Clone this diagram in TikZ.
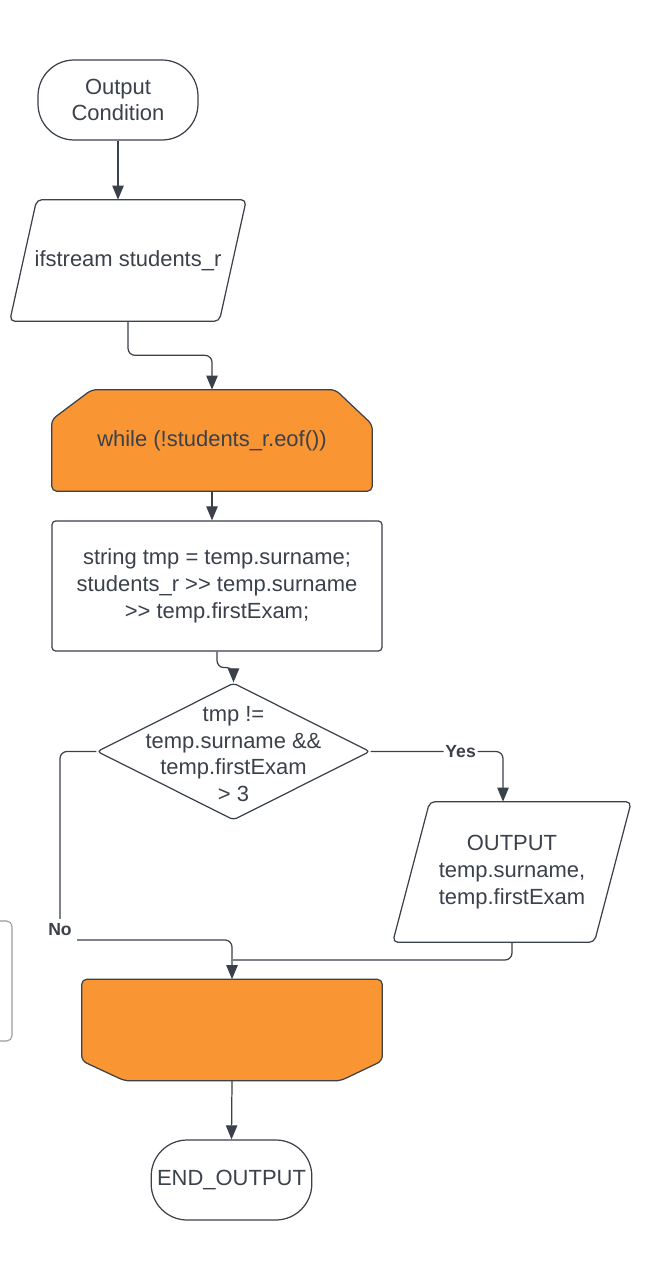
\documentclass[tikz,border=0pt]{standalone}
\usepackage{fontspec}
\setmainfont{Liberation Sans}
\usetikzlibrary{arrows.meta, positioning, shapes.geometric, backgrounds, calc}
\definecolor{inkgray}{HTML}{3A414A}
\definecolor{loopfill}{HTML}{F99533}
\newcommand{\shr}{>\kern0pt>}

\begin{document}
\begin{tikzpicture}[
  x=0.02cm, y=-0.02cm,
  font=\fontsize{12.5}{15.2}\selectfont, text=inkgray,
  terminal/.style={rectangle, draw=inkgray, rounded corners=0.72cm, line width=0.7pt,
                   minimum width=3.2cm, minimum height=1.6cm, align=center},
  iobox/.style={rectangle, align=center},
  ioline/.style={draw=inkgray, line width=0.7pt, rounded corners=3pt},
  process/.style={rectangle, draw=inkgray, rounded corners=2pt, line width=0.7pt,
                  minimum width=6.6cm, minimum height=2.6cm, align=center},
  decision/.style={diamond, draw=inkgray, rounded corners=2pt, line width=0.7pt,
                   minimum width=5.46cm, minimum height=2.74cm, inner sep=0pt},
  loopbox/.style={rectangle, minimum height=2.02cm, align=center},
  loopline/.style={draw=inkgray, fill=loopfill, line width=0.7pt, rounded corners=3pt},
  arr/.style={-{Triangle[length=8pt, width=6.5pt]}, draw=inkgray, line width=0.7pt,
              rounded corners=4pt},
  link/.style={draw=inkgray, line width=0.7pt, rounded corners=4pt},
  branch/.style={font=\fontsize{10}{12}\selectfont\bfseries, fill=white, inner sep=1pt}
]
\useasboundingbox (0,0) rectangle (650,1267);

% Flow
\node[terminal] (start) at (118,100) {Output\\Condition};
\node[iobox, minimum width=4.72cm, minimum height=2.42cm] (input) at (128,260.5) {ifstream students\_r};
\node[loopbox, minimum width=6.4cm] (loopbeg) at (212,440.5) {while (!students\_r.eof())};
\node[process] (proc) at (217,586)
  {string tmp = temp.surname;\\students\_r \shr{} temp.surname\\\shr{} temp.firstExam;};
\node[decision] (cond) at (233.5,751.5) {};
\node[align=center] (condtext) at (233.5,754)
  {tmp !=\\temp.surname \&\&\\temp.firstExam\\> 3};
\node[iobox, minimum width=4.76cm, minimum height=2.8cm] (out) at (512,872)
  {OUTPUT\\temp.surname,\\temp.firstExam};
\node[loopbox, minimum width=6cm] (loopend) at (232,1030) {};
\node[terminal] (finish) at (231.5,1180) {END\_OUTPUT};
\node[rectangle, draw=gray!80, rounded corners=3pt, line width=0.6pt,
      minimum width=2.4cm, minimum height=2.4cm] (sidebox) at (-48,981) {};

% Outlines
\draw[ioline] (input.south west) -- ($(input.north west)+(27,0)$)
  -- (input.north east) -- ($(input.south east)+(-27,0)$) -- cycle;
\draw[ioline] (out.south west) -- ($(out.north west)+(37,0)$)
  -- (out.north east) -- ($(out.south east)+(-37,0)$) -- cycle;
\begin{scope}[on background layer]
\draw[loopline] (loopbeg.south west) -- (loopbeg.south east)
  -- ($(loopbeg.north east)+(0,35)$) -- ($(loopbeg.north east)+(-37,0)$)
  -- ($(loopbeg.north west)+(40,0)$) -- ($(loopbeg.north west)+(0,30)$) -- cycle;
\draw[loopline] (loopend.north west) -- (loopend.north east)
  -- ($(loopend.south east)+(0,-20)$) -- ($(loopend.south east)+(-42,0)$)
  -- ($(loopend.south west)+(43,0)$) -- ($(loopend.south west)+(0,-20)$) -- cycle;
\end{scope}

\coordinate (merge) at (233,960);
\coordinate (nocorner) at (60,940);

\draw[arr] (start.south) -- (start.south |- input.north);
\draw[arr] (input.south) -- ++(0,34) -| (loopbeg.north);
\draw[arr] (loopbeg.south) -- (loopbeg.south |- proc.north);
\draw[arr] (proc.south) -- ++(0,16) -| (cond.north);
\draw[arr] (cond.east) -| node[branch, pos=0.34]{Yes} ($(out.north)+(-9,0)$);
\draw[link] (out.south) |- (merge);
\draw[arr] (cond.west) -| (nocorner) -| (loopend.north);
\node[branch, inner sep=3pt] (nolabel) at (60,930) {No};
\draw[arr] (loopend.south) -- (finish.north);

\end{tikzpicture}
\end{document}
